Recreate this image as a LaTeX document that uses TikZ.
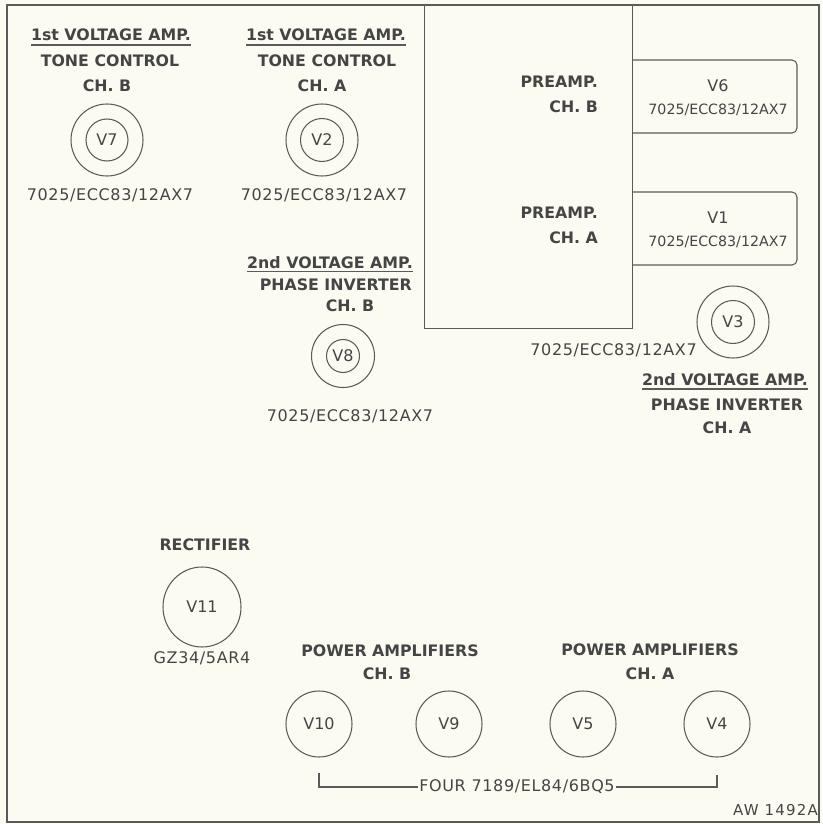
\documentclass[tikz,border=0pt]{standalone}
\usepackage{fontspec}
\usetikzlibrary{shapes.geometric}
\setmainfont{DejaVu Sans}
\newfontfamily\spacedfont{DejaVu Sans}[LetterSpace=4]
\newfontfamily\widefont{DejaVu Sans}[LetterSpace=8]
\definecolor{ink}{HTML}{454545}
\definecolor{linec}{HTML}{5A5A5A}
\definecolor{paper}{HTML}{FBFBF2}
\begin{document}
\begin{tikzpicture}[x=1pt,y=-1pt,
  every node/.style={inner sep=0pt, text=ink},
  head/.style={font=\fontsize{15.8}{18}\selectfont\bfseries, anchor=base},
  part/.style={font=\spacedfont\fontsize{16}{19}\selectfont, anchor=base},
  smallpart/.style={font=\fontsize{14.2}{17}\selectfont, anchor=base},
  vlabel/.style={font=\fontsize{16}{19}\selectfont},
  ring/.style={circle, draw=linec, line width=1.05pt},
  outline/.style={draw=linec, line width=1.05pt},
  uline/.style={draw=linec, line width=1.05pt}
]
\fill[paper] (0,0) rectangle (822,824);
\useasboundingbox (0,0) rectangle (822,824);
\draw[outline] (7,5) rectangle (819,822);

% --- V7 block
\node[head] (h7a) at (111,41) {1st VOLTAGE AMP.};
\draw[uline] ([yshift=-4pt]h7a.base west) -- ([yshift=-4pt]h7a.base east);
\node[head] (h7b) at (110,67) {TONE CONTROL};
\node[head] (h7c) at (107,92) {CH. B};
\node[ring, minimum size=72pt] (v7o) at (107,140) {};
\node[ring, minimum size=42pt, vlabel] (v7) at (107,140) {V7};
\node[part] (p7) at (110,200) {7025/ECC83/12AX7};

% --- V2 block
\node[head] (h2a) at (326,41) {1st VOLTAGE AMP.};
\draw[uline] ([yshift=-4pt]h2a.base west) -- ([yshift=-4pt]h2a.base east);
\node[head] (h2b) at (327,67) {TONE CONTROL};
\node[head] (h2c) at (322,92) {CH. A};
\node[ring, minimum size=72pt] (v2o) at (322,140) {};
\node[ring, minimum size=43pt, vlabel] (v2) at (322,140) {V2};
\node[part] (p2) at (324,200) {7025/ECC83/12AX7};

% --- Preamp box
\node[outline, anchor=north west, minimum width=208pt, minimum height=323pt] (pre) at (424,5) {};
\node[head, anchor=base east] (prb1) at (598,88) {PREAMP.};
\node[head, anchor=base east] (prb2) at (598,113) {CH. B};
\node[head, anchor=base east] (pra1) at (598,218) {PREAMP.};
\node[head, anchor=base east] (pra2) at (598,243) {CH. A};

% V6 box
\draw[outline, rounded corners=5pt] (632,60) -- (797,60) -- (797,133) -- (632,133);
\node[vlabel, anchor=base] (v6) at (718,92) {V6};
\node[smallpart] (p6) at (718,114) {7025/ECC83/12AX7};
% V1 box
\draw[outline, rounded corners=5pt] (632,192) -- (797,192) -- (797,265) -- (632,265);
\node[vlabel, anchor=base] (v1) at (718,223) {V1};
\node[smallpart] (p1) at (718,246) {7025/ECC83/12AX7};

% --- V3 block
\node[ring, minimum size=72pt] (v3o) at (733,322) {};
\node[ring, minimum size=43pt, vlabel] (v3) at (733,322) {V3};
\node[part, anchor=base east] (p3) at (697,355) {7025/ECC83/12AX7};
\node[head] (h3a) at (725,385) {2nd VOLTAGE AMP.};
\draw[uline] ([yshift=-4pt]h3a.base west) -- ([yshift=-4pt]h3a.base east);
\node[head] (h3b) at (727,410) {PHASE INVERTER};
\node[head] (h3c) at (727,433) {CH. A};

% --- V8 block
\node[head, anchor=base east] (h8a) at (413,268) {2nd VOLTAGE AMP.};
\draw[uline] ([yshift=-3.5pt]h8a.base west) -- ([yshift=-3.5pt]h8a.base east);
\node[head, anchor=base east] (h8b) at (412,290) {PHASE INVERTER};
\node[head] (h8c) at (350,311) {CH. B};
\node[ring, minimum size=63pt] (v8o) at (343,356) {};
\node[ring, minimum size=33pt, vlabel] (v8) at (343,356) {V8};
\node[part] (p8) at (350,421) {7025/ECC83/12AX7};

% --- Rectifier
\node[head] (hr) at (205,550) {RECTIFIER};
\node[ellipse, draw=linec, line width=1.05pt, minimum width=78pt, minimum height=80pt, vlabel] (v11) at (202,607) {V11};
\node[part] (p11) at (202,663) {GZ34/5AR4};

% --- Power amplifiers
\node[head] (hpb1) at (390,656) {POWER AMPLIFIERS};
\node[head] (hpb2) at (387,679) {CH. B};
\node[head] (hpa1) at (650,655) {POWER AMPLIFIERS};
\node[head] (hpa2) at (650,679) {CH. A};
\node[ring, minimum size=66pt, vlabel] (v10) at (319,724) {V10};
\node[ring, minimum size=66pt, vlabel] (v9) at (449,724) {V9};
\node[ring, minimum size=66pt, vlabel] (v5) at (583,724) {V5};
\node[ring, minimum size=66pt, vlabel] (v4) at (717,724) {V4};

\node[font=\spacedfont\fontsize{16}{19}\selectfont, inner xsep=1.5pt] (four) at (517,787) {FOUR 7189/EL84/6BQ5};
\coordinate (bl) at (319,773);
\coordinate (br) at (717,775);
\draw[uline] (bl) |- (four.west);
\draw[uline] (four.east) -| (br);

\node[font=\widefont\fontsize{15}{18}\selectfont, anchor=base east] (aw) at (818,815) {AW 1492A};
\end{tikzpicture}
\end{document}
